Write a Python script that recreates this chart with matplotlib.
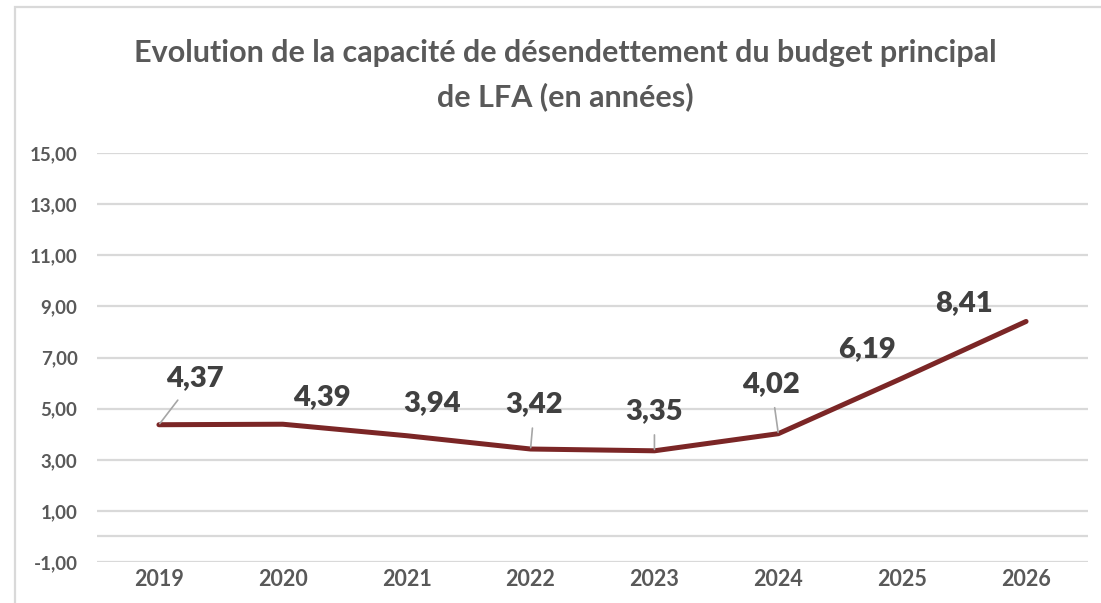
import matplotlib
matplotlib.use("Agg")
import matplotlib.pyplot as plt
from matplotlib.patches import Rectangle
from matplotlib.ticker import FixedLocator, FuncFormatter

years = ["2019", "2020", "2021", "2022", "2023", "2024", "2025", "2026"]
values = [4.37, 4.39, 3.94, 3.42, 3.35, 4.02, 6.19, 8.41]
y_ticks = [-1, 1, 3, 5, 7, 9, 11, 13, 15]

title = "Evolution de la capacité de désendettement du budget principal\nde LFA (en années)"

# label placement (pixel offsets from each point) and whether a leader line is drawn
label_offsets = [(36, 47), (39, 27), (25, 33), (4, 45), (0, 40), (-7, 50), (-35, 29), (-62, 18)]
leaders = [True, False, False, True, True, True, False, False]

TEXT = "#595959"
GRID = "#D9D9D9"
LINE = "#7B2626"
FONT = "Lato"

plt.rcParams["font.family"] = [FONT, "DejaVu Sans"]

fig = plt.figure(figsize=(11.01, 6.03), dpi=100)
ax = fig.add_axes([97 / 1101, 1 - 562 / 603, (1088 - 97) / 1101, (562 - 153) / 603])

x = list(range(len(years)))
ax.plot(x, values, color=LINE, lw=3.6, solid_capstyle="round", zorder=3)

for i, v in enumerate(values):
    dx, dy = label_offsets[i]
    arrow = None
    if leaders[i]:
        arrow = dict(arrowstyle="-", color="#A6A6A6", lw=1.2, shrinkA=6, shrinkB=1)
    ax.annotate(f"{v:.2f}".replace(".", ","), xy=(i, v), xytext=(dx, dy),
                textcoords="offset pixels", ha="center", va="center",
                fontsize=21, fontweight="heavy", color="#404040",
                arrowprops=arrow, zorder=4)

ax.set_xlim(-0.5, len(years) - 0.5)
ax.set_ylim(-1, 15)
ax.yaxis.set_major_locator(FixedLocator(y_ticks))
ax.yaxis.set_major_formatter(FuncFormatter(lambda v, p: f"{v:.2f}".replace(".", ",")))
ax.set_xticks(x)
ax.set_xticklabels(years)
ax.grid(axis="y", color=GRID, lw=1.6)
ax.axhline(0, color=GRID, lw=1.6, zorder=1)
ax.set_axisbelow(True)
for s in ax.spines.values():
    s.set_visible(False)
ax.tick_params(axis="y", length=0, pad=14, labelsize=13.5, labelcolor=TEXT)
ax.tick_params(axis="x", length=0, pad=5, labelsize=15.5, labelcolor=TEXT)
for lbl in ax.get_yticklabels():
    lbl.set_fontweight("bold")
for lbl in ax.get_xticklabels():
    lbl.set_fontweight("bold")

fig.text(565 / 1101, 1 - 75 / 603, title, ha="center", va="center",
         fontsize=22, fontweight="bold", color=TEXT, linespacing=1.65)

# chart frame (only left and top edges are visible in the crop)
fig.patches.append(Rectangle((15 / 1101, -0.1), 1.2, 1 - 7 / 603 + 0.1,
                             transform=fig.transFigure, fill=False,
                             edgecolor=GRID, lw=1.6))

fig.savefig("out.png", dpi=100)
